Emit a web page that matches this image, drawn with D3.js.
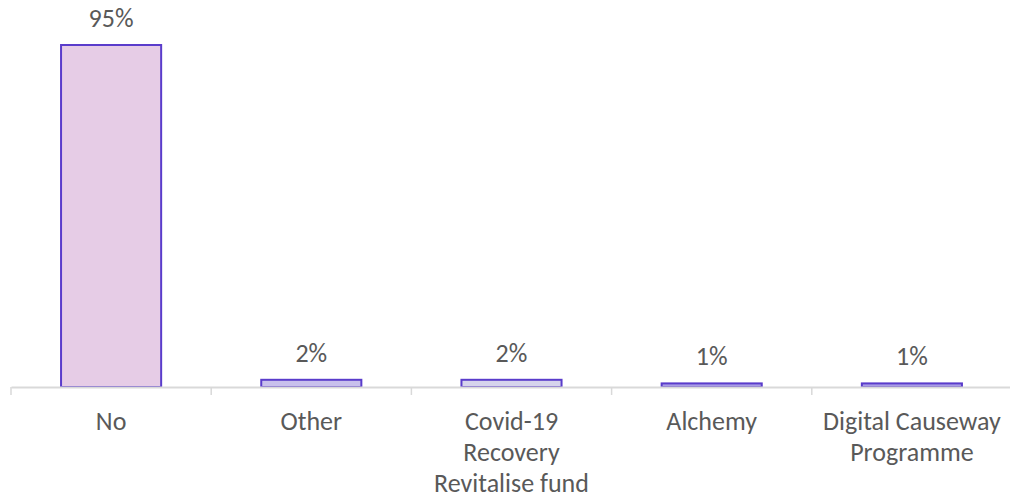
<!DOCTYPE html>
<html>
<head>
<meta charset="utf-8">
<script src="https://cdn.jsdelivr.net/npm/d3@7"></script>
<style>
  html, body { margin: 0; padding: 0; background: #fff; }
  svg { display: block; }
  text { font-family: Carlito, Lato, "Open Sans", sans-serif; fill: #595959; }
</style>
</head>
<body>
<svg id="chart" width="1010" height="498"></svg>
<script>
// Share of responses by funding source
const categories = ["No", "Other", "Covid-19\nRecovery\nRevitalise fund", "Alchemy", "Digital Causeway\nProgramme"];
const values = [95, 2, 2, 1, 1];
const valueLabels = ["95%", "2%", "2%", "1%", "1%"];
const fills = ["#E6CCE6", "#C8C0EC", "#D6D4EC", "#A99DE6", "#A99DE6"];

const W = 1010, H = 498;
const margin = { left: 11, right: -2, top: 45, bottom: 111 };
const svg = d3.select("#chart");

const x = d3.scaleBand()
  .domain(categories)
  .range([margin.left, W - margin.right])
  .paddingInner(0.5)
  .paddingOuter(0.25);

const baseY = H - margin.bottom;
const y = d3.scaleLinear()
  .domain([0, 95])
  .range([baseY, margin.top]);

// bars
svg.selectAll("rect.bar")
  .data(values)
  .join("rect")
  .attr("class", "bar")
  .attr("x", (d, i) => x(categories[i]))
  .attr("width", x.bandwidth())
  .attr("y", d => y(d))
  .attr("height", d => baseY - y(d))
  .attr("fill", (d, i) => fills[i])
  .attr("stroke", "#5A3CCB")
  .attr("stroke-width", 2);

// category axis
const axis = d3.axisBottom(x).tickSize(0).tickFormat("");
const gAxis = svg.append("g")
  .attr("transform", `translate(0,${baseY})`)
  .call(axis);
gAxis.select(".domain").attr("stroke", "#D9D9D9").attr("stroke-width", 2);

// tick marks between categories
const bounds = categories.map(c => x(c) - x.bandwidth() * 0.5).concat([x(categories[categories.length - 1]) + x.bandwidth() * 1.5]);
svg.append("g").selectAll("line")
  .data(bounds)
  .join("line")
  .attr("x1", d => d).attr("x2", d => d)
  .attr("y1", baseY).attr("y2", baseY + 8)
  .attr("stroke", "#D9D9D9").attr("stroke-width", 1.5);

// category labels (multi-line)
const lab = svg.append("g").selectAll("text")
  .data(categories)
  .join("text")
  .attr("text-anchor", "middle")
  .attr("font-size", 26)
  .attr("x", d => x(d) + x.bandwidth() / 2)
  .attr("y", baseY + 43);
lab.each(function (d) {
  const t = d3.select(this);
  d.split("\n").forEach((line, k) => {
    t.append("tspan")
      .attr("x", x(d) + x.bandwidth() / 2)
      .attr("dy", k === 0 ? 0 : 31)
      .text(line);
  });
});

// value labels
svg.append("g").selectAll("text")
  .data(values)
  .join("text")
  .attr("text-anchor", "middle")
  .attr("font-size", 26)
  .attr("x", (d, i) => x(categories[i]) + x.bandwidth() / 2)
  .attr("y", d => y(d) - 18)
  .text((d, i) => valueLabels[i]);
</script>
</body>
</html>
